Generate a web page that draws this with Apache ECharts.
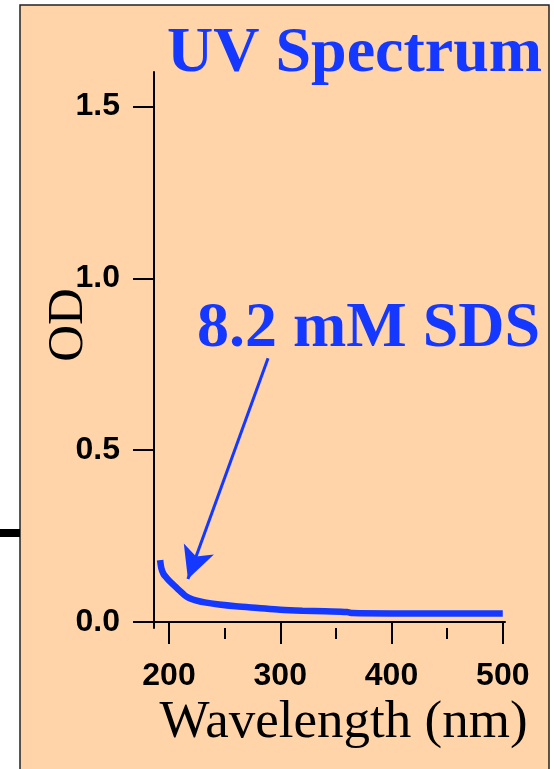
<!DOCTYPE html>
<html>
<head>
<meta charset="utf-8">
<title>UV Spectrum</title>
<script src="https://cdn.jsdelivr.net/npm/echarts@6/dist/echarts.min.js"></script>
<style>
  html, body { margin: 0; padding: 0; background: #fff; }
  #chart { width: 554px; height: 769px; }
</style>
</head>
<body>
<div id="chart"></div>
<script>
  // spectrum (nm, OD)
  var wavelength = [192, 193, 195, 198, 202, 206, 210, 214, 218, 224, 232, 245, 260, 280, 300, 320, 340, 360, 365, 400, 450, 500];
  var od = [0.18, 0.158, 0.14, 0.128, 0.114, 0.102, 0.09, 0.078, 0.07, 0.063, 0.057, 0.051, 0.046, 0.041, 0.036, 0.033, 0.031, 0.029, 0.026, 0.025, 0.025, 0.025];

  var yTicks = [0, 0.5, 1.0, 1.5];
  var xTicks = [200, 300, 400, 500];
  var xMinorTicks = [250, 350, 450];

  // arrow from the label down to the curve
  var arrowFrom = [289, 0.767];
  var arrowTo = [217, 0.125];

  var blue = '#1438ff';
  var peach = '#ffd4a9';

  var points = wavelength.map(function (w, i) { return [w, od[i]]; });

  var chart = echarts.init(document.getElementById('chart'));

  var tickFont = { color: '#000', fontSize: 32, fontWeight: 'bold', fontFamily: 'Liberation Sans, Arial, sans-serif' };
  var serif = 'Liberation Serif, Times New Roman, serif';

  var option = {
    backgroundColor: '#fff',
    animation: false,
    grid: { left: 154, right: 49, top: 72, bottom: 141 },
    graphic: [
      {
        type: 'rect', z: -10, silent: true,
        shape: { x: 20, y: 5, width: 529, height: 770 },
        style: { fill: peach, stroke: '#222', lineWidth: 1.5 }
      },
      {
        type: 'rect', z: -10, silent: true,
        shape: { x: 0, y: 529, width: 20, height: 8 },
        style: { fill: '#000' }
      },
      {
        type: 'text', z: 10, left: 167, top: 22,
        style: { text: 'UV Spectrum', fill: blue, font: 'bold 64px ' + serif }
      },
      {
        type: 'text', z: 10, left: 197, top: 297,
        style: { text: '8.2 mM SDS', fill: blue, font: 'bold 64px ' + serif }
      },
      // y axis title, turned to read upwards
      {
        type: 'text', z: 10, x: 69, y: 325, rotation: Math.PI / 2,
        style: { text: 'OD', fill: '#000', font: '51px ' + serif, textAlign: 'center', textVerticalAlign: 'middle' }
      }
    ],
    xAxis: [
      {
        type: 'value', min: 186.5, max: 502,
        name: 'Wavelength (nm)', nameLocation: 'middle', nameGap: 66,
        nameTextStyle: { color: '#000', fontSize: 53, fontFamily: serif, padding: [0, 0, 0, 28] },
        axisLine: { show: true, lineStyle: { color: '#000', width: 2 } },
        axisTick: { show: true, inside: false, length: 22, customValues: xTicks, lineStyle: { color: '#000', width: 2 } },
        axisLabel: Object.assign({ customValues: xTicks, margin: 32 }, tickFont),
        splitLine: { show: false }
      },
      {
        type: 'value', min: 186.5, max: 502, position: 'bottom',
        axisLine: { show: false },
        axisTick: { show: true, inside: false, length: 11, customValues: xMinorTicks, lineStyle: { color: '#000', width: 2 } },
        axisLabel: { show: false },
        splitLine: { show: false }
      }
    ],
    yAxis: {
      type: 'value', min: -0.0174, max: 1.6,
      axisLine: { show: true, lineStyle: { color: '#000', width: 2 } },
      axisTick: { show: true, inside: false, length: 21, customValues: yTicks, lineStyle: { color: '#000', width: 2 } },
      axisLabel: Object.assign({
        customValues: yTicks, margin: 34,
        formatter: function (v) { return v.toFixed(1); }
      }, tickFont),
      splitLine: { show: false }
    },
    series: [
      {
        type: 'line',
        data: points,
        showSymbol: false,
        smooth: 0.3,
        lineStyle: { color: blue, width: 6.5 },
        markLine: {
          silent: true,
          symbol: ['none', 'arrow'],
          symbolSize: [24, 32],
          label: { show: false },
          lineStyle: { color: blue, width: 3, type: 'solid' },
          data: [[{ coord: arrowFrom }, { coord: arrowTo }]]
        }
      }
    ]
  };

  chart.setOption(option);
</script>
</body>
</html>
